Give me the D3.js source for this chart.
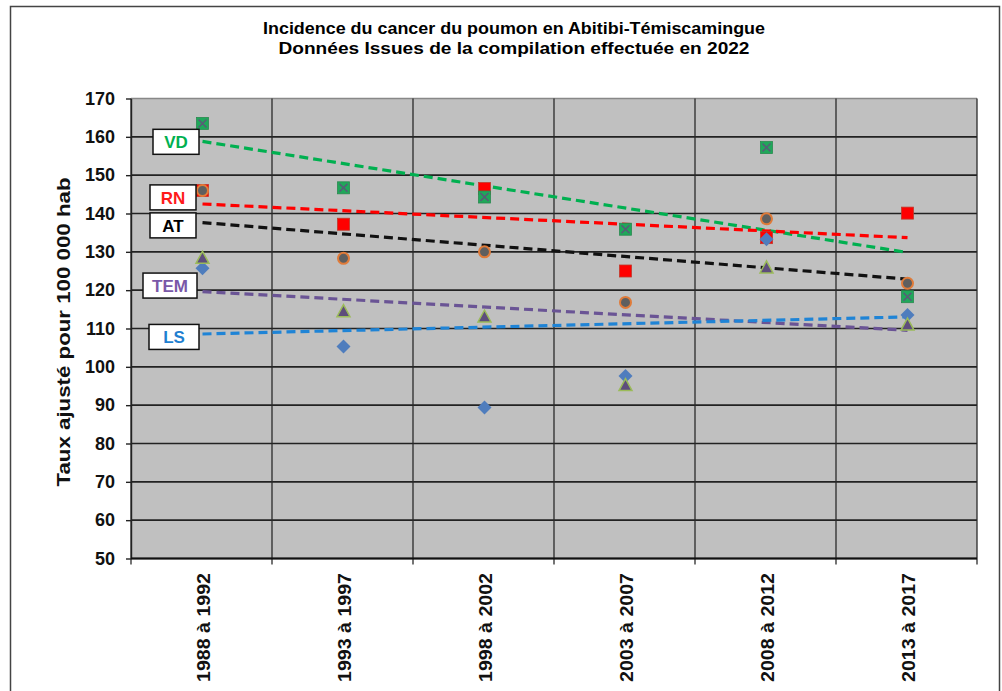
<!DOCTYPE html>
<html>
<head>
<meta charset="utf-8">
<script src="https://cdn.jsdelivr.net/npm/d3@7"></script>
<style>
  body { margin: 0; background: #fff; }
  text { font-family: "Liberation Sans", Arial, sans-serif; }
</style>
</head>
<body>
<div id="chart"></div>
<script>
// données
const categories = ["1988 à 1992", "1993 à 1997", "1998 à 2002", "2003 à 2007", "2008 à 2012", "2013 à 2017"];
const seriesNames = ["VD", "RN", "AT", "TEM", "LS"];
const vd  = [163.5, 146.7, 144.3, 135.9, 157.2, 118.3];
const rn  = [146.0, 137.2, 146.5, 125.0, 133.7, 140.1];
const at  = [146.0, 128.3, 130.0, 116.8, 138.6, 121.8];
const tem = [128.3, 114.4, 113.0, 95.1, 125.8, 110.9];
const ls  = [125.7, 105.3, 89.4, 97.6, 133.3, 113.5];
const yTicks = [50, 60, 70, 80, 90, 100, 110, 120, 130, 140, 150, 160, 170];
// position verticale des étiquettes (en unités de l'axe)
const labelValues = [158.7, 144.2, 136.9, 121.2, 107.8];

const width = 1002;
const height = 691;
const margin = { top: 98.5, right: 25, bottom: 132.5, left: 131 };

const svg = d3.select("#chart")
    .append("svg")
    .attr("width", width)
    .attr("height", height);

// cadre extérieur
svg.append("path")
    .attr("d", "M10.5,700 V6.5 H999.5 V700")
    .attr("fill", "none")
    .attr("stroke", "#444")
    .attr("stroke-width", 1.5);

// titre
svg.append("text")
    .attr("x", 514).attr("y", 34)
    .attr("text-anchor", "middle")
    .attr("font-size", 17).attr("font-weight", "bold")
    .attr("textLength", 502).attr("lengthAdjust", "spacingAndGlyphs")
    .text("Incidence du cancer du poumon en Abitibi-Témiscamingue");
svg.append("text")
    .attr("x", 514).attr("y", 54)
    .attr("text-anchor", "middle")
    .attr("font-size", 17).attr("font-weight", "bold")
    .attr("textLength", 471).attr("lengthAdjust", "spacingAndGlyphs")
    .text("Données Issues de la compilation effectuée en 2022");

const x = d3.scaleBand()
    .domain(categories)
    .range([margin.left, width - margin.right]);

const y = d3.scaleLinear()
    .domain([50, 170])
    .range([height - margin.bottom, margin.top]);

const x0 = margin.left, x1 = width - margin.right;
const yTop = margin.top, yBot = height - margin.bottom;

// fond gris
svg.append("rect")
    .attr("x", x0).attr("y", yTop)
    .attr("width", x1 - x0).attr("height", yBot - yTop)
    .attr("fill", "#c0c0c0");

// grille horizontale
svg.append("g").selectAll("line")
    .data(yTicks)
    .enter().append("line")
    .attr("x1", x0).attr("x2", x1)
    .attr("y1", d => y(d)).attr("y2", d => y(d))
    .attr("stroke", d => d === 170 ? "#888" : "#222")
    .attr("stroke-width", 1.6);

// grille verticale
const edges = categories.map(c => x(c)).concat([x1]);
svg.append("g").selectAll("line")
    .data(edges)
    .enter().append("line")
    .attr("x1", d => d).attr("x2", d => d)
    .attr("y1", yTop).attr("y2", yBot + 6)
    .attr("stroke", "#2a2a2a")
    .attr("stroke-width", 1.3);

// axe Y
const yAxis = svg.append("g")
    .attr("transform", `translate(${x0},0)`)
    .call(d3.axisLeft(y).tickValues(yTicks).tickSize(5).tickPadding(11).tickSizeOuter(0));
yAxis.select(".domain").attr("stroke", "#222").attr("stroke-width", 1.4);
yAxis.selectAll(".tick line").attr("stroke", "#222").attr("stroke-width", 1.4);
yAxis.selectAll("text")
    .attr("font-size", 18).attr("font-weight", "bold").attr("fill", "#111")
    .attr("font-family", "Liberation Sans, Arial, sans-serif");

// axe X
svg.append("line")
    .attr("x1", x0).attr("x2", x1)
    .attr("y1", yBot).attr("y2", yBot)
    .attr("stroke", "#111").attr("stroke-width", 2);

svg.append("g").selectAll("text")
    .data(categories)
    .enter().append("text")
    .attr("transform", d => `translate(${x(d) + x.bandwidth() / 2 + 2},573) rotate(-90)`)
    .attr("text-anchor", "end")
    .attr("dy", "0.35em")
    .attr("font-size", 18).attr("font-weight", "bold").attr("fill", "#111")
    .attr("textLength", 109).attr("lengthAdjust", "spacingAndGlyphs")
    .text(d => d);

// titre de l'axe Y
svg.append("text")
    .attr("transform", "translate(70,332) rotate(-90)")
    .attr("text-anchor", "middle")
    .attr("font-size", 18).attr("font-weight", "bold").attr("fill", "#111")
    .attr("textLength", 309).attr("lengthAdjust", "spacingAndGlyphs")
    .text("Taux ajusté pour 100 000 hab");

// séries
const series = [
    { name: "VD",  values: vd,  line: "#00b050", label: "#00b050" },
    { name: "RN",  values: rn,  line: "#ff0000", label: "#ff1a1a" },
    { name: "AT",  values: at,  line: "#111111", label: "#000000" },
    { name: "TEM", values: tem, line: "#6a5495", label: "#7a58a8" },
    { name: "LS",  values: ls,  line: "#1f84d6", label: "#1f7fd0" }
];

const cx = i => x(categories[i]) + x.bandwidth() / 2 + 1;

// droites de tendance (moindres carrés)
function trend(values) {
    const n = values.length;
    const xs = d3.range(1, n + 1);
    const mx = d3.mean(xs), my = d3.mean(values);
    const sxy = d3.sum(xs, (v, i) => (v - mx) * (values[i] - my));
    const sxx = d3.sum(xs, v => (v - mx) * (v - mx));
    const b = sxy / sxx;
    const a = my - b * mx;
    return [a + b * 1, a + b * n];
}

series.forEach(s => {
    const t = trend(s.values);
    svg.append("line")
        .attr("x1", cx(0)).attr("x2", cx(s.values.length - 1))
        .attr("y1", y(t[0])).attr("y2", y(t[1]))
        .attr("stroke", s.line)
        .attr("stroke-width", 3.2)
        .attr("stroke-dasharray", "9,5");
});

// marqueurs
const mk = svg.append("g");
function drawMarkers(name) {
    const s = series.find(d => d.name === name);
    s.values.forEach((v, i) => {
        const px = cx(i), py = y(v);
        if (name === "RN") {
            mk.append("rect").attr("x", px - 6).attr("y", py - 6)
                .attr("width", 12).attr("height", 12)
                .attr("fill", "#ff0000").attr("stroke", "#c0392b").attr("stroke-width", 0.8);
        } else if (name === "VD") {
            mk.append("rect").attr("x", px - 6).attr("y", py - 6)
                .attr("width", 12).attr("height", 12)
                .attr("fill", "#1fa85a").attr("stroke", "#2b8a50").attr("stroke-width", 0.8);
            mk.append("path")
                .attr("d", `M${px - 4},${py - 4}L${px + 4},${py + 4}M${px + 4},${py - 4}L${px - 4},${py + 4}`)
                .attr("stroke", "#5a5a78").attr("stroke-width", 1.5);
        } else if (name === "AT") {
            mk.append("circle").attr("cx", px).attr("cy", py).attr("r", 5.5)
                .attr("fill", "#5f5f5f").attr("stroke", "#e07b39").attr("stroke-width", 2);
        } else if (name === "TEM") {
            mk.append("path")
                .attr("d", `M${px},${py - 7}L${px + 6.5},${py + 5}L${px - 6.5},${py + 5}Z`)
                .attr("fill", "#5e4d7c").attr("stroke", "#9bbb59").attr("stroke-width", 1.5);
        } else if (name === "LS") {
            mk.append("path")
                .attr("d", `M${px},${py - 7}L${px + 7},${py}L${px},${py + 7}L${px - 7},${py}Z`)
                .attr("fill", "#4f7dbd");
        }
    });
}
["RN", "LS", "TEM", "VD", "AT"].forEach(drawMarkers);

// étiquettes des séries
const labelWidths = { VD: 46, RN: 46, AT: 46, TEM: 54, LS: 50 };
const labelRight = { VD: 199, RN: 196, AT: 196, TEM: 197, LS: 199 };
series.forEach((s, i) => {
    const w = labelWidths[s.name];
    const r = labelRight[s.name];
    const cy = y(labelValues[i]);
    const g = svg.append("g");
    g.append("rect")
        .attr("x", r - w).attr("y", cy - 12.5)
        .attr("width", w).attr("height", 25)
        .attr("fill", "#fff").attr("stroke", "#111").attr("stroke-width", 1.5);
    g.append("text")
        .attr("x", r - w / 2).attr("y", cy)
        .attr("dy", "0.36em")
        .attr("text-anchor", "middle")
        .attr("font-family", "Open Sans, sans-serif")
        .attr("font-size", 17).attr("font-weight", "bold")
        .attr("fill", s.label)
        .text(s.name);
});
</script>
</body>
</html>
